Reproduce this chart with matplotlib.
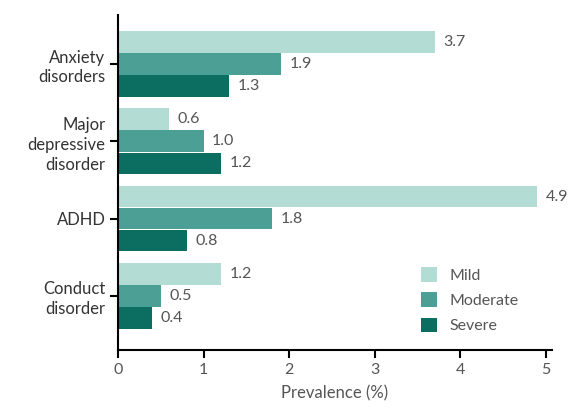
import numpy as np
import matplotlib.pyplot as plt

# Data
categories = ['Anxiety\ndisorders', 'Major\ndepressive\ndisorder', 'ADHD', 'Conduct\ndisorder']
mild = [3.7, 0.6, 4.9, 1.2]
moderate = [1.9, 1.0, 1.8, 0.5]
severe = [1.3, 1.2, 0.8, 0.4]

series = [('Mild', mild, '#b3dcd5'), ('Moderate', moderate, '#4b9f94'), ('Severe', severe, '#0b6e60')]

plt.rcParams['font.family'] = ['Lato', 'DejaVu Sans']
grey = '#555555'

fig = plt.figure(figsize=(5.71, 4.11), dpi=100)
ax = fig.add_axes([0.2067, 0.1484, 0.76, 0.8151])

y = np.arange(len(categories))
h = 0.28
for i, (name, vals, color) in enumerate(series):
    pos = y + (i - 1) * (h + 0.005)
    ax.barh(pos, vals, height=h, color=color, label=name)
    for p, v in zip(pos, vals):
        ax.text(v + 0.1, p, f'{v:.1f}', va='center', ha='left', fontsize=11.5, color=grey)

ax.set_ylim(3.70, -0.634)
ax.set_xlim(0, 5.07)
ax.set_yticks(y)
ax.set_yticklabels(categories, fontsize=12, linespacing=1.3)
ax.set_xticks(range(6))
ax.set_xticklabels([str(i) for i in range(6)], fontsize=11.5)
ax.set_xlabel('Prevalence (%)', fontsize=12, color=grey, labelpad=6)

for s in ['top', 'right']:
    ax.spines[s].set_visible(False)
for s in ['left', 'bottom']:
    ax.spines[s].set_linewidth(1.5)
ax.tick_params(axis='both', width=1.5, length=6, colors='black')
ax.tick_params(axis='x', labelcolor=grey)
ax.tick_params(axis='y', labelcolor='#333333', pad=3)

ax.legend(loc='upper left', bbox_to_anchor=(0.665, 0.29), frameon=False, fontsize=11.5,
          handlelength=1.0, handleheight=1.0, labelcolor=grey, handletextpad=0.8,
          labelspacing=0.6)

plt.savefig('out.png', dpi=100)
plt.close()
